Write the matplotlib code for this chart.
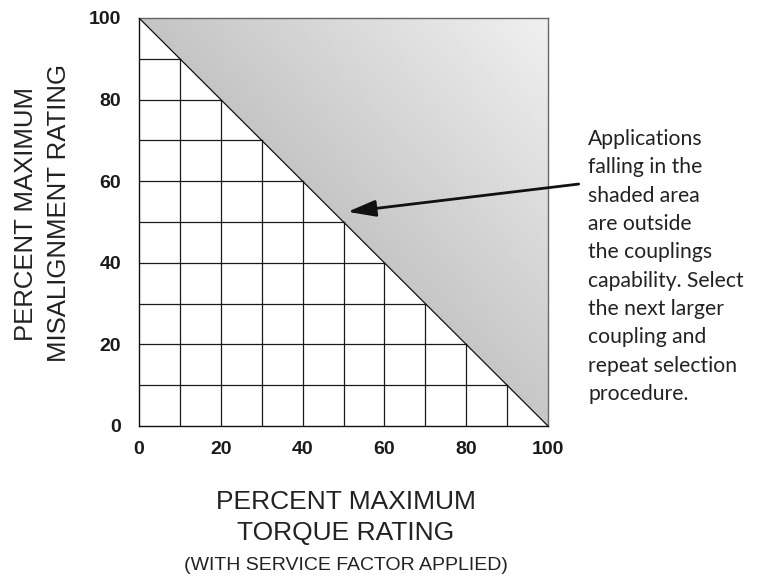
import numpy as np
import matplotlib.pyplot as plt
from matplotlib.patches import Polygon

# chart values
tick_values = [0, 20, 40, 60, 80, 100]
grid_levels = [10, 20, 30, 40, 50, 60, 70, 80, 90]
limit_x = [0, 100]
limit_y = [100, 0]
shaded_corners = [(0, 100), (100, 100), (100, 0)]
arrow_tip = (51.0, 52.5)
arrow_tail = (107.5, 59.3)

note = ("Applications\nfalling in the\nshaded area\nare outside\nthe couplings\n"
        "capability. Select\nthe next larger\ncoupling and\nrepeat selection\nprocedure.")

fig = plt.figure(figsize=(7.67, 5.8), dpi=100)
ax = fig.add_axes([139 / 767, 1 - 426 / 580, 409 / 767, 408 / 580])
ax.set_xlim(0, 100)
ax.set_ylim(0, 100)

# shaded triangle with a soft gradient
gx, gy = np.meshgrid(np.linspace(0, 100, 200), np.linspace(0, 100, 200))
shade = 0.61 + 0.0017 * gx + 0.0016 * gy
img = ax.imshow(shade, extent=[0, 100, 0, 100], origin="lower", cmap="gray",
                vmin=0, vmax=1, aspect="auto", interpolation="bilinear", zorder=1)
tri = Polygon(shaded_corners, closed=True, facecolor="none", edgecolor="none")
ax.add_patch(tri)
img.set_clip_path(tri)

# grid below the limit line
for g in grid_levels:
    ax.plot([g, g], [0, 100 - g], color="#1a1a1a", lw=0.9, zorder=2)
    ax.plot([0, 100 - g], [g, g], color="#1a1a1a", lw=0.9, zorder=2)
ax.plot(limit_x, limit_y, color="#111111", lw=0.9, zorder=3)

for side in ["left", "bottom"]:
    ax.spines[side].set_color("#111111")
    ax.spines[side].set_linewidth(1.0)
for side in ["top", "right"]:
    ax.spines[side].set_color("#666666")
    ax.spines[side].set_linewidth(1.0)

ax.set_xticks(tick_values)
ax.set_yticks(tick_values)
ax.set_xticklabels([str(v) for v in tick_values], fontfamily="Liberation Sans",
                   fontweight="bold", fontsize=14, color="#1a1a1a")
ax.set_yticklabels([str(v) for v in tick_values], fontfamily="Liberation Sans",
                   fontweight="bold", fontsize=14, color="#1a1a1a")
ax.tick_params(axis="x", length=0, pad=11)
ax.tick_params(axis="y", length=0, pad=13)

ax.annotate("", xy=arrow_tip, xytext=arrow_tail, annotation_clip=False,
            arrowprops=dict(arrowstyle="-|>,head_length=0.85,head_width=0.25",
                            color="#111111", lw=2.0, mutation_scale=20,
                            shrinkA=0, shrinkB=0), zorder=5)

fig.text(588 / 767, 1 - 129 / 580, note, fontfamily="Lato", fontsize=15.2,
         color="#222222", ha="left", va="top", linespacing=1.52)

lab = dict(fontfamily="Liberation Sans", color="#222222", ha="center", va="center")
fig.text(346 / 767, 1 - 502 / 580, "PERCENT MAXIMUM", fontsize=19, **lab)
fig.text(346 / 767, 1 - 533 / 580, "TORQUE RATING", fontsize=19, **lab)
fig.text(346 / 767, 1 - 565 / 580, "(WITH SERVICE FACTOR APPLIED)", fontsize=14, **lab)
fig.text(26 / 767, 1 - 214 / 580, "PERCENT MAXIMUM", fontsize=18.5, rotation=90, **lab)
fig.text(59 / 767, 1 - 213 / 580, "MISALIGNMENT RATING", fontsize=18.5, rotation=90, **lab)

fig.savefig("out.png", dpi=100, facecolor="white")
